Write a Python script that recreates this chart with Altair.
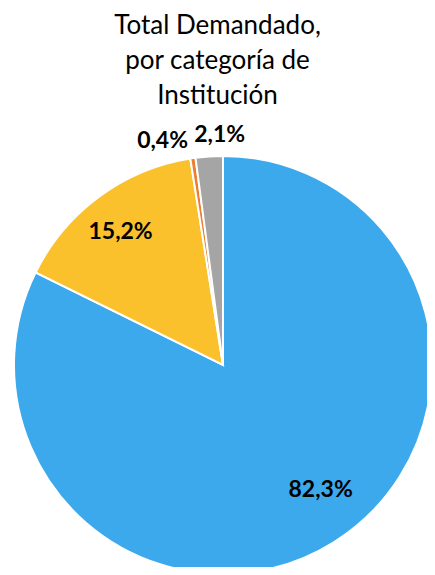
import altair as alt
import pandas as pd

categorias = ["Categoría 1", "Categoría 2", "Categoría 3", "Categoría 4"]
valores = [82.3, 15.2, 0.4, 2.1]
etiquetas = ["82,3%", "15,2%", "0,4%", "2,1%"]
colores = ["#3BA9EC", "#FBC12D", "#ED7D31", "#A5A5A5"]
orden = [1, 2, 3, 4]

df = pd.DataFrame({"cat": categorias, "valor": valores, "etiqueta": etiquetas, "orden": orden})

cx, cy, R = 215, 247, 209

base = alt.Chart(df).encode(
    theta=alt.Theta("valor:Q", stack=True),
    order=alt.Order("orden:Q"),
    x=alt.value(cx),
    y=alt.value(cy),
)

pie = base.mark_arc(radius=R, stroke="white", strokeWidth=2).encode(
    color=alt.Color("cat:N", scale=alt.Scale(domain=categorias, range=colores), legend=None)
)

txt_style = dict(font="Lato", fontSize=23, fontWeight="bold", color="black")


def label(cat, radius, dx, dy):
    return base.mark_text(radius=radius, dx=dx, dy=dy, **txt_style).encode(
        text=alt.condition(alt.datum.cat == cat, "etiqueta:N", alt.value(""))
    )


l1 = label(categorias[0], 166, 10, -16)
l2 = label(categorias[1], 166, -4, 1)
l3 = label(categorias[2], 232, -27, 6)
l4 = label(categorias[3], 232, 12, 1)

chart = alt.layer(pie, l1, l2, l3, l4).properties(
    width=419,
    height=449,
    autosize=alt.AutoSizeParams(type="none"),
    padding={"left": 0, "top": 110, "right": 0, "bottom": 0},
    title=alt.TitleParams(
        text=["Total Demandado,", "por categoría de", "Institución"],
        font="Lato",
        fontSize=26,
        fontWeight="normal",
        color="black",
        lineHeight=35,
        anchor="middle",
        offset=9,
    ),
).configure_view(stroke=None)

chart.save("out.html", embed_options={"renderer": "svg", "actions": False})
